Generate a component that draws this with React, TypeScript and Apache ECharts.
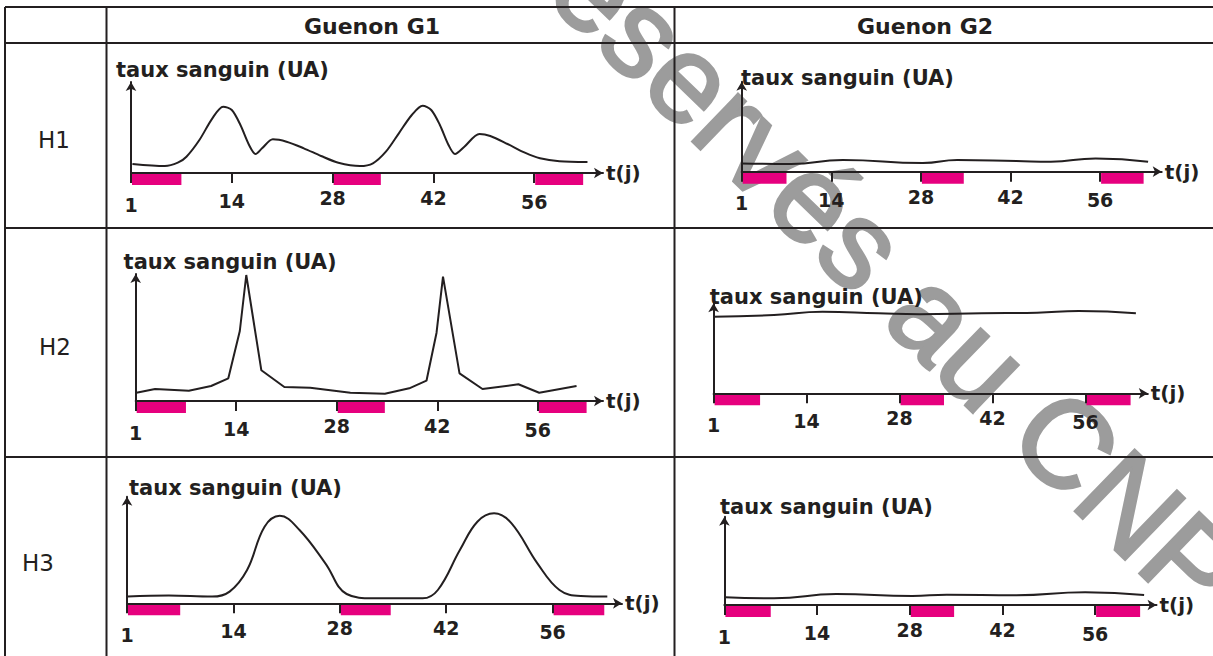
import React, { useEffect, useRef } from "react";
import * as echarts from "echarts";

// ---------- data ----------
const COLUMN_TITLES = ["Guenon G1", "Guenon G2"];
const ROW_TITLES = ["H1", "H2", "H3"];
const Y_TITLE = "taux sanguin (UA)";
const X_TITLE = "t(j)";
const TICK_DAYS = [0, 14, 28, 42, 56];
const TICK_LABELS = ["1", "14", "28", "42", "56"];
// menstruation periods [start day, end day]
const MENSES = [
  [0, 7],
  [28, 34.7],
  [56, 62.8],
];
const WATERMARK = "réservés au CNP";

// blood level [day, UA]
const H1_G1 = [
  [0.2, 9], [4.7, 7], [6.5, 10.3], [7.7, 16.3], [9.5, 33], [11.3, 54.7], [12.8, 66.3], [14, 63],
  [15.2, 48], [16.4, 28], [17.3, 19], [18.2, 24.7], [19.7, 33.7], [21.6, 31.3], [24, 24.7],
  [26.4, 17], [28.8, 10.3], [31.8, 7], [33.6, 9.7], [35.4, 21.3], [37.2, 39.7], [39, 58],
  [40.5, 67.3], [41.7, 63], [42.9, 48], [44.1, 28], [45, 19], [46.3, 26.3], [48.4, 39],
  [49.9, 37], [52.3, 29], [54.7, 20.3], [56.8, 14.7], [59.5, 11.7], [63.4, 11],
];
const H2_G1 = [
  [0.1, 8.3], [2.7, 12], [7.4, 10.3], [10.5, 15], [12.9, 22.7], [14.5, 70], [15.4, 126],
  [17.5, 30.7], [20.7, 14], [24.3, 13.3], [29.9, 8.3], [34.7, 7.3], [38.1, 12.7], [40.5, 20.3],
  [41.9, 68.3], [42.8, 124.3], [45.1, 27.7], [48.3, 12], [53.3, 16.7], [56.2, 8.3], [61.4, 15],
];
const H3_G1 = [
  [0.1, 6.7], [5.5, 7.7], [11.2, 6.7], [13.5, 11.7], [15.8, 33.3], [18.1, 76.6], [20.1, 87.6],
  [22.7, 73.3], [26.1, 40], [28.9, 9.3], [32.4, 5], [38.9, 5], [40.9, 13.3], [43.8, 53.3],
  [46.1, 81.6], [48.3, 90], [50.6, 80], [54, 40], [56.9, 13.3], [59.7, 7.3], [63.2, 6.7],
];
const H1_G2 = [
  [0, 8.3], [7.7, 7.7], [15.8, 11.7], [28.3, 8.7], [33.7, 11.7], [42.9, 10.7], [48.3, 10],
  [55.3, 13.3], [63.5, 10],
];
const H2_G2 = [
  [0, 76.6], [9.1, 78.3], [16.4, 81.6], [24.8, 80], [31, 79], [40.4, 80], [48.7, 80.6],
  [55, 82.3], [63.6, 80],
];
const H3_G2 = [
  [0.1, 7.7], [7.5, 6.7], [16.9, 11], [28.4, 9], [33.6, 10.3], [44.1, 9.7], [54.5, 12.7],
  [63.4, 10],
];

// ---------- layout ----------
const INK = "#231f20";
const PINK = "#e6007e";
const BOLD_FONT = "DejaVu Sans";

const PANELS = [
  { data: H1_G1, smooth: 0.3, left: 131, top: 82, right: 603, bottom: 173, ppd: 7.2, tx: 116, ty: 70 },
  { data: H1_G2, smooth: 0.5, left: 741.7, top: 81.7, right: 1161.7, bottom: 171.7, ppd: 6.4, tx: 741, ty: 78 },
  { data: H2_G1, smooth: false, left: 135.7, top: 274, right: 603, bottom: 401, ppd: 7.18, tx: 123.6, ty: 261.7 },
  { data: H2_G2, smooth: 0.5, left: 713.6, top: 303.3, right: 1147.8, bottom: 393.3, ppd: 6.64, tx: 709.8, ty: 296.7 },
  { data: H3_G1, smooth: 0.4, left: 127, top: 496.7, right: 622, bottom: 603.3, ppd: 7.6, tx: 129, ty: 488 },
  { data: H3_G2, smooth: 0.5, left: 724.4, top: 516.7, right: 1156.5, bottom: 605, ppd: 6.62, tx: 720, ty: 506.7 },
];
const LABEL_DROP = [8, 4.5, 1.5, 1.5, 5];

function buildOption() {
  const grid: any[] = [];
  const xAxis: any[] = [];
  const yAxis: any[] = [];
  const series: any[] = [];
  const graphic: any[] = [];

  // watermark (drawn first, behind everything)
  graphic.push({
    type: "text",
    x: 543,
    y: -63,
    rotation: -0.768,
    silent: true,
    z: -10,
    style: {
      text: WATERMARK,
      fontFamily: "Liberation Sans",
      fontSize: 124,
      fill: "#9c9c9c",
      stroke: "#9c9c9c",
      lineWidth: 3,
      align: "left",
      verticalAlign: "middle",
    },
  });

  const rich: any = {};
  LABEL_DROP.forEach((d, i) => {
    rich["d" + i] = {
      padding: [d, 0, 0, 0],
      fontSize: 19,
      fontWeight: "bold",
      fontFamily: BOLD_FONT,
      color: INK,
    };
  });

  PANELS.forEach((p, i) => {
    const w = p.right - p.left;
    const h = p.bottom - p.top;
    grid.push({ left: p.left, top: p.top, width: w, height: h, containLabel: false });
    xAxis.push({
      type: "value",
      gridIndex: i,
      min: 0,
      max: w / p.ppd,
      z: 5,
      name: X_TITLE,
      nameLocation: "end",
      nameGap: 3,
      nameTextStyle: {
        fontFamily: BOLD_FONT,
        fontWeight: "bold",
        fontSize: 20,
        color: INK,
        align: "left",
        verticalAlign: "middle",
        padding: [5, 0, 0, 0],
      },
      axisLine: {
        show: true,
        symbol: ["none", "arrow"],
        symbolSize: [8, 9],
        lineStyle: { color: INK, width: 2 },
      },
      axisTick: {
        show: true,
        customValues: TICK_DAYS,
        length: 10,
        inside: false,
        lineStyle: { color: INK, width: 2 },
      },
      axisLabel: {
        show: true,
        customValues: TICK_DAYS,
        margin: 14,
        verticalAlign: "top",
        formatter: (v: number) => {
          const k = TICK_DAYS.indexOf(Math.round(v));
          return k < 0 ? "" : "{d" + k + "|" + TICK_LABELS[k] + "}";
        },
        rich,
      },
      splitLine: { show: false },
    });
    yAxis.push({
      type: "value",
      gridIndex: i,
      min: 0,
      max: h,
      z: 5,
      axisLine: {
        show: true,
        symbol: ["none", "arrow"],
        symbolSize: [8, 9],
        lineStyle: { color: INK, width: 2 },
      },
      axisTick: { show: false },
      axisLabel: { show: false },
      splitLine: { show: false },
    });
    series.push({
      type: "custom",
      xAxisIndex: i,
      yAxisIndex: i,
      data: MENSES.map((m) => [m[0], m[1], 0]),
      encode: { x: [0, 1], y: 2 },
      clip: false,
      z: 1,
      renderItem: (params: any, api: any) => {
        const s = api.coord([api.value(0), 0]);
        const e = api.coord([api.value(1), 0]);
        return {
          type: "rect",
          shape: { x: s[0] + 1, y: s[1] + 1, width: e[0] - s[0] - 1, height: 11 },
          style: { fill: PINK },
        };
      },
    });
    series.push({
      type: "line",
      xAxisIndex: i,
      yAxisIndex: i,
      data: p.data,
      smooth: p.smooth,
      showSymbol: false,
      clip: false,
      lineStyle: { color: INK, width: 2 },
      z: 3,
    });
    graphic.push({
      type: "text",
      x: p.tx,
      y: p.ty,
      silent: true,
      z: 10,
      style: {
        text: Y_TITLE,
        fontFamily: BOLD_FONT,
        fontWeight: "bold",
        fontSize: 21,
        fill: INK,
        align: "left",
        verticalAlign: "middle",
      },
    });
  });

  // table frame
  const lineStyle = { stroke: INK, lineWidth: 2 };
  const hLines = [7, 43, 228, 457];
  hLines.forEach((y) =>
    graphic.push({ type: "line", silent: true, z: 10, shape: { x1: 5, y1: y, x2: 1213, y2: y }, style: lineStyle })
  );
  const vLines = [5, 106.5, 674.5];
  vLines.forEach((x) =>
    graphic.push({ type: "line", silent: true, z: 10, shape: { x1: x, y1: 7, x2: x, y2: 656 }, style: lineStyle })
  );

  const colCenters = [372, 925];
  COLUMN_TITLES.forEach((t, i) =>
    graphic.push({
      type: "text",
      x: colCenters[i],
      y: 26,
      silent: true,
      z: 10,
      style: {
        text: t,
        fontFamily: BOLD_FONT,
        fontWeight: "bold",
        fontSize: 22,
        fill: INK,
        align: "center",
        verticalAlign: "middle",
      },
    })
  );
  const rowPos = [
    [54, 140],
    [55, 347],
    [38, 563],
  ];
  ROW_TITLES.forEach((t, i) =>
    graphic.push({
      type: "text",
      x: rowPos[i][0],
      y: rowPos[i][1],
      silent: true,
      z: 10,
      style: {
        text: t,
        fontFamily: "DejaVu Sans",
        fontSize: 23,
        fill: INK,
        align: "center",
        verticalAlign: "middle",
      },
    })
  );

  return {
    animation: false,
    backgroundColor: "#ffffff",
    grid,
    xAxis,
    yAxis,
    series,
    graphic: { elements: graphic },
  };
}

export default function App() {
  const ref = useRef<HTMLDivElement>(null);
  useEffect(() => {
    const chart = echarts.init(ref.current!, null, { renderer: "svg" });
    chart.setOption(buildOption() as any);
    return () => chart.dispose();
  }, []);
  return (
    <div
      ref={ref}
      style={{ position: "fixed", left: 0, top: 0, width: 1213, height: 656, background: "#fff" }}
    />
  );
}
